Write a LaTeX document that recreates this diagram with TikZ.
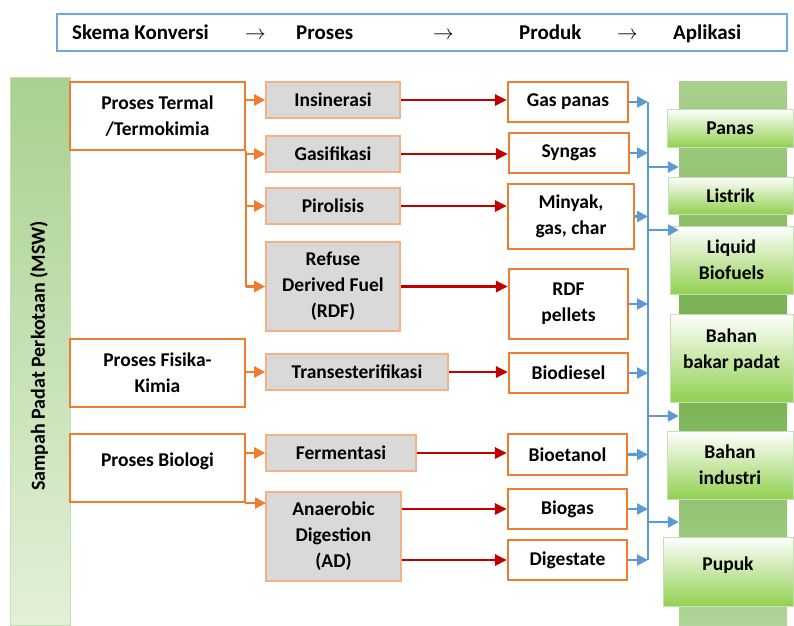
\documentclass[tikz,border=0pt]{standalone}
\usepackage{fontspec}
\setmainfont{Carlito}
\usetikzlibrary{arrows.meta}
\definecolor{orng}{HTML}{ED7D31}
\definecolor{lorng}{HTML}{F4B183}
\definecolor{gry}{HTML}{D9D9D9}
\definecolor{rd}{HTML}{C00000}
\definecolor{blu}{HTML}{5B9BD5}
\definecolor{hdrblue}{HTML}{6FA8DC}
\definecolor{gA}{HTML}{A9D18E}
\definecolor{gB}{HTML}{70AD47}
\definecolor{gC}{HTML}{E2F0D9}
\definecolor{gD}{HTML}{92D050}
\definecolor{gE}{HTML}{C5E0B4}
\begin{document}
\begin{tikzpicture}[x=1pt,y=-1pt,
  every node/.style={font=\fontsize{19.5}{26}\selectfont\bfseries, align=center, inner sep=0pt},
  hdrtext/.style={font=\fontsize{21}{24}\selectfont\bfseries, anchor=base west},
  catbox/.style={draw=orng, fill=white, line width=2.2pt},
  procbox/.style={draw=lorng, fill=gry, line width=1.6pt},
  prodbox/.style={draw=orng, fill=white, line width=2.2pt},
  appbox/.style={draw=gE, line width=1pt, top color=white, bottom color=gD},
  oline/.style={draw=orng, line width=2.5pt},
  oarr/.style={draw=orng, line width=2.5pt, -{Triangle[length=11pt,width=11pt]}},
  rarr/.style={draw=rd, line width=2.8pt, -{Triangle[length=12pt,width=11pt]}},
  bline/.style={draw=blu, line width=2.5pt},
  barr/.style={draw=blu, line width=2.5pt, -{Triangle[length=11pt,width=11pt]}},
  sz/.style 2 args={minimum width=#1pt, minimum height=#2pt}
]
\useasboundingbox (0,0) rectangle (794,625);
\fill[white] (0,0) rectangle (794,625);

% header
\node[draw=hdrblue, line width=2pt, sz={730}{37}] (hdr) at (422,32.5) {};
\node[hdrtext] (h1) at (72,39) {Skema Konversi};
\node[hdrtext] (h2) at (245,39) {$\rightarrow$};
\node[hdrtext] (h3) at (296,39) {Proses};
\node[hdrtext] (h4) at (433,39) {$\rightarrow$};
\node[hdrtext] (h5) at (519,39) {Produk};
\node[hdrtext] (h6) at (617,39) {$\rightarrow$};
\node[hdrtext] (h7) at (673,39) {Aplikasi};

% left bar
\node[draw=gE, line width=1pt, top color=gA, bottom color=gC, sz={60}{548}] (msw) at (40,351) {};
\node[rotate=90, font=\fontsize{20}{24}\selectfont\bfseries] (mswt) at (39,356) {Sampah Padat Perkotaan (MSW)};

% right strip
\node[top color=gA, bottom color=gA!90!white, middle color=gB, sz={108}{545}] (strip) at (733,353.5) {};

% categories
\node[catbox, sz={175}{68}] (termal) at (157.5,116) {Proses Termal\\/Termokimia};
\node[catbox, sz={175}{68}] (fisika) at (157.5,373) {Proses Fisika-\\Kimia};
\node[catbox, sz={175}{68}, label={[yshift=7pt]center:Proses Biologi}] (biologi) at (157.5,468) {};

% processes
\node[procbox, sz={134}{36}] (insin) at (333,100) {Insinerasi};
\node[procbox, sz={134}{36}] (gasif) at (333,154) {Gasifikasi};
\node[procbox, sz={134}{36}] (piro) at (333,206) {Pirolisis};
\node[procbox, sz={134}{89}] (rdf) at (333,286.5) {Refuse\\Derived Fuel\\(RDF)};
\node[procbox, sz={182}{36}] (trans) at (357,372) {Transesterifikasi};
\node[procbox, sz={150}{36}] (ferm) at (341,453) {Fermentasi};
\node[procbox, sz={135}{89}] (ad) at (333.5,536.5) {Anaerobic\\Digestion\\(AD)};

% products
\node[prodbox, sz={120}{40}] (gaspanas) at (568,102) {Gas panas};
\node[prodbox, sz={120}{40}] (syngas) at (569,153) {Syngas};
\node[prodbox, sz={126}{65}] (minyak) at (571,216.5) {Minyak,\\gas, char};
\node[prodbox, sz={119}{70}] (pellets) at (568.5,304) {RDF\\pellets};
\node[prodbox, sz={119}{40}] (biodiesel) at (568.5,373) {Biodiesel};
\node[prodbox, sz={119}{41}] (bioetanol) at (567.5,454.5) {Bioetanol};
\node[prodbox, sz={119}{40}] (biogas) at (567.5,509) {Biogas};
\node[prodbox, sz={119}{40}] (digestate) at (567.5,560) {Digestate};

% applications
\node[appbox, sz={126}{38}] (panas) at (730,128) {Panas};
\node[appbox, sz={125}{37}] (listrik) at (730.5,195.5) {Listrik};
\node[appbox, sz={123}{68}] (liquid) at (731.5,260) {Liquid\\Biofuels};
\node[appbox, sz={123}{88}, label={[yshift=8pt]center:Bahan\\bakar padat}] (bbp) at (731.5,358) {};
\node[appbox, sz={126}{68}] (industri) at (730,465) {Bahan\\industri};
\node[appbox, sz={130}{69}, label={[yshift=6pt]center:Pupuk}] (pupuk) at (728,571.5) {};

% orange connectors
\draw[oline] (termal.south east) -- (termal.south east |- rdf.west);
\draw[oarr] (termal.east |- insin.west) -- (insin.west);
\draw[oarr] (termal.east |- gasif.west) -- (gasif.west);
\draw[oarr] (termal.east |- piro.west) -- (piro.west);
\draw[oarr] (termal.east |- rdf.west) -- (rdf.west);
\draw[oarr] (fisika.east |- trans.west) -- (trans.west);
\draw[oarr] (biologi.east |- ferm.west) -- (ferm.west);
\coordinate (adin) at (266,503);
\draw[oarr] (biologi.south east) |- (adin);

% red connectors
\draw[rarr] (insin.east) -- (insin.east -| gaspanas.west);
\draw[rarr] (gasif.east) -- (gasif.east -| syngas.west);
\draw[rarr] (piro.east) -- (piro.east -| minyak.west);
\draw[rarr] (rdf.east) -- (rdf.east -| pellets.west);
\draw[rarr] (trans.east) -- (trans.east -| biodiesel.west);
\draw[rarr] (ferm.east) -- (ferm.east -| bioetanol.west);
\draw[rarr] (ad.east |- biogas.west) -- (biogas.west);
\draw[rarr] (ad.east |- digestate.west) -- (digestate.west);

% blue connectors
\coordinate (bx) at (648,0);
\draw[bline] (bx |- gaspanas.east) -- (bx |- digestate.east);
\foreach \p in {gaspanas,syngas,minyak,pellets,biodiesel,bioetanol,biogas,digestate}
  \draw[barr] (\p.east) -- (\p.east -| bx);
\coordinate (s1) at (648,167);
\coordinate (s2) at (648,230);
\coordinate (s3) at (648,416);
\coordinate (s4) at (648,522);
\foreach \s in {s1,s2,s3,s4}
  \draw[barr] (\s) -- (\s -| strip.west);
\end{tikzpicture}
\end{document}
